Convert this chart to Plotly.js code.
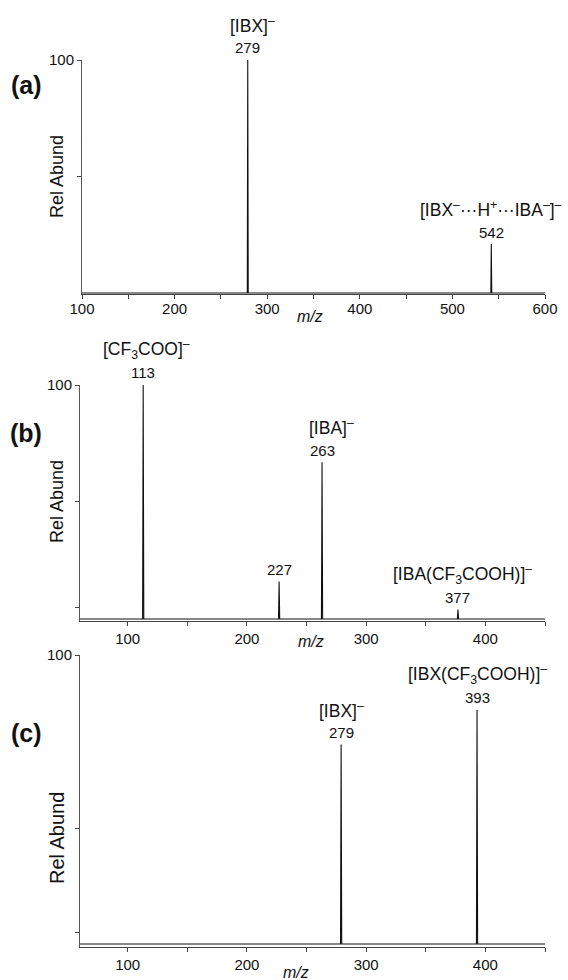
<!DOCTYPE html>
<html>
<head>
<meta charset="utf-8">
<script src="https://cdn.plot.ly/plotly-3.0.1.min.js"></script>
<style>html,body{margin:0;padding:0;background:#fff;}#chart{width:568px;height:980px;}</style>
</head>
<body>
<div id="chart"></div>
<script>
// ---- data ----
var panelLetters = ['(a)', '(b)', '(c)'];
var xRangeA = [100, 600];
var xRangeB = [60, 450];
var xRangeC = [60, 450];
var yLabelTick = [100];
var yMinorA = [50];
var yMinorB = [5, 50];
var yMinorC = [4, 40];

var mzA = [279, 542];
var abA = [100, 21];
var ionA = ['[IBX]<sup>–</sup>', '[IBX<sup>–</sup>···H<sup>+</sup>···IBA<sup>–</sup>]<sup>–</sup>'];

var mzB = [113, 227, 263, 377];
var abB = [100, 16, 67, 4];
var ionB = ['[CF<sub>3</sub>COO]<sup>–</sup>', '', '[IBA]<sup>–</sup>', '[IBA(CF<sub>3</sub>COOH)]<sup>–</sup>'];

var mzC = [279, 393];
var abC = [69, 81];
var ionC = ['[IBX]<sup>–</sup>', '[IBX(CF<sub>3</sub>COOH)]<sup>–</sup>'];

// ---- build ----
var FONT = 'Liberation Sans, Arial, sans-serif';
function trace(mz, ab, xr, xa, ya) {
  var order = mz.map(function(m, i){return i;}).sort(function(a,b){return mz[a]-mz[b];});
  var xs = [xr[0]], ys = [0];
  order.forEach(function(i){
    xs.push(mz[i]-0.5, mz[i], mz[i]+0.5);
    ys.push(0, ab[i], 0);
  });
  xs.push(xr[1]); ys.push(0);
  return {x: xs, y: ys, xaxis: xa, yaxis: ya, type: 'scatter', mode: 'lines',
    line: {color: '#111', width: 1.1}, hoverinfo: 'skip', showlegend: false};
}
var data = [
  trace(mzA, abA, xRangeA, 'x', 'y'),
  trace(mzB, abB, xRangeB, 'x2', 'y2'),
  trace(mzC, abC, xRangeC, 'x3', 'y3')
];

var W = 568, H = 980;
function px(x){return x / W;}
function py(y){return 1 - y / H;}

function xaxis(range, domain, anchor, standoff) {
  return {range: range, domain: domain, anchor: anchor, showgrid: false, zeroline: false,
    showline: true, linecolor: '#444', linewidth: 1, ticks: 'outside', ticklen: 4, tickcolor: '#444',
    tickmode: 'linear', tick0: 0, dtick: 100, ticklabelstandoff: standoff,
    minor: {tickmode: 'linear', tick0: 0, dtick: 50, ticks: 'outside', ticklen: 4, tickcolor: '#444', showgrid: false},
    tickfont: {family: FONT, size: 15, color: '#111'}, fixedrange: true};
}
function yaxis(range, minorVals, domain, anchor) {
  return {range: range, domain: domain, anchor: anchor, showgrid: false, zeroline: false,
    showline: true, linecolor: '#555', linewidth: 1, ticks: 'outside', ticklen: 4, tickcolor: '#444',
    tickmode: 'array', tickvals: yLabelTick, ticktext: yLabelTick.map(String),
    minor: {tickmode: 'array', tickvals: minorVals, ticks: 'outside', ticklen: 4, tickcolor: '#444', showgrid: false},
    tickfont: {family: FONT, size: 15, color: '#111'}, fixedrange: true};
}

var xDomA = [px(82), px(545)];
var xDomB = [px(80), px(545)];
var yDomA = [py(294.2), py(60)];
var yDomB = [py(621.3), py(385)];
var yDomC = [py(946.9), py(655)];

var ann = [];
function peakLabels(mz, ab, ions, xa, ya, ionShift) {
  mz.forEach(function(m, i){
    ann.push({x: m, y: ab[i], xref: xa, yref: ya, text: String(m), showarrow: false,
      yanchor: 'middle', xanchor: 'center', yshift: 12,
      font: {family: FONT, size: 15, color: '#111'}});
    if (ions[i]) {
      ann.push({x: m, y: ab[i], xref: xa, yref: ya, text: ions[i], showarrow: false,
        yanchor: 'middle', xanchor: 'center', yshift: 35, xshift: ionShift[i],
        font: {family: FONT, size: 17.5, color: '#111'}});
    }
  });
}
peakLabels(mzA, abA, ionA, 'x', 'y', [5, 0]);
peakLabels(mzB, abB, ionB, 'x2', 'y2', [3, 0, 9, 5]);
peakLabels(mzC, abC, ionC, 'x3', 'y3', [0, 0]);

function paperText(x, y, text, size, extra) {
  var a = {x: px(x), y: py(y), xref: 'paper', yref: 'paper', text: text, showarrow: false,
    xanchor: 'center', yanchor: 'middle', font: {family: FONT, size: size, color: '#111'}};
  for (var k in extra) a[k] = extra[k];
  ann.push(a);
}
var letterY = [85, 433, 733];
panelLetters.forEach(function(l, i){ paperText(26, letterY[i], '<b>' + l + '</b>', 25, {}); });
paperText(57, 177, 'Rel Abund', 18, {textangle: -90});
paperText(57, 502, 'Rel Abund', 18, {textangle: -90});
paperText(57, 838, 'Rel Abund', 20, {textangle: -90});
paperText(310, 316, '<i>m/z</i>', 16, {});
paperText(311, 641, '<i>m/z</i>', 16, {});
paperText(296, 972, '<i>m/z</i>', 16, {});

var layout = {
  width: W, height: H, margin: {l: 0, r: 0, t: 0, b: 0},
  paper_bgcolor: '#fff', plot_bgcolor: 'rgba(0,0,0,0)', showlegend: false,
  xaxis: xaxis(xRangeA, xDomA, 'y', -3),
  yaxis: yaxis([-0.5, 100], yMinorA, yDomA, 'x'),
  xaxis2: xaxis(xRangeB, xDomB, 'y2', 0),
  yaxis2: yaxis([-1, 100], yMinorB, yDomB, 'x2'),
  xaxis3: xaxis(xRangeC, xDomB, 'y3', 0),
  yaxis3: yaxis([-1, 100], yMinorC, yDomC, 'x3'),
  annotations: ann
};
Plotly.newPlot('chart', data, layout, {staticPlot: true, displayModeBar: false});
</script>
</body>
</html>
